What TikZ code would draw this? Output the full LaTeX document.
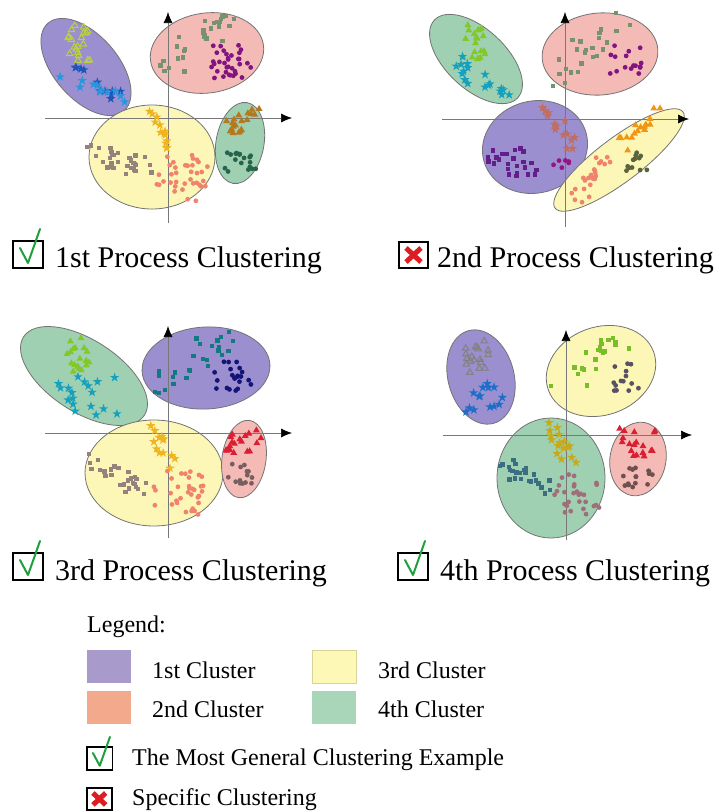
\documentclass[tikz,border=0pt]{standalone}
\usepackage{fontspec}
\setmainfont{Liberation Serif}
\usetikzlibrary{arrows.meta}
\definecolor{epurple}{RGB}{155,143,207}
\definecolor{epink}{RGB}{244,186,182}
\definecolor{eyellow}{RGB}{252,247,182}
\definecolor{egreen}{RGB}{160,208,178}
\definecolor{lpurple}{RGB}{168,155,204}
\definecolor{lsalmon}{RGB}{242,169,140}
\definecolor{lyellow}{RGB}{253,248,182}
\definecolor{lgreen}{RGB}{169,213,185}
\definecolor{estroke}{RGB}{115,115,115}
\definecolor{axgray}{RGB}{120,120,120}
\definecolor{ckgreen}{RGB}{30,160,60}
\definecolor{xred}{RGB}{220,30,35}
\definecolor{ygc}{RGB}{185,210,60}
\definecolor{bluedk}{RGB}{30,85,185}
\definecolor{bluelt}{RGB}{40,150,220}
\definecolor{ggc}{RGB}{120,145,110}
\definecolor{purpc}{RGB}{130,20,130}
\definecolor{goldc}{RGB}{240,180,30}
\definecolor{gbc}{RGB}{150,130,125}
\definecolor{salc}{RGB}{240,130,110}
\definecolor{browntc}{RGB}{180,120,30}
\definecolor{dgc}{RGB}{40,100,75}
\definecolor{grtc}{RGB}{130,200,40}
\definecolor{tealc}{RGB}{20,160,190}
\definecolor{rosec}{RGB}{190,110,100}
\definecolor{purpsq}{RGB}{100,30,140}
\definecolor{magc}{RGB}{150,20,130}
\definecolor{orc}{RGB}{240,150,20}
\definecolor{olc}{RGB}{90,100,60}
\definecolor{tealsq}{RGB}{20,120,130}
\definecolor{navyc}{RGB}{20,20,120}
\definecolor{redc}{RGB}{220,30,50}
\definecolor{bgdc}{RGB}{120,95,95}
\definecolor{graytc}{RGB}{130,130,130}
\definecolor{blue4}{RGB}{30,110,200}
\definecolor{grsq}{RGB}{120,190,40}
\definecolor{dkpc}{RGB}{90,80,100}
\definecolor{olgold}{RGB}{200,170,20}
\definecolor{slatec}{RGB}{60,110,130}
\definecolor{mauvec}{RGB}{160,110,120}
\definecolor{brdc}{RGB}{110,80,80}
\newcommand\myscat[8]{%
 \pgfmathsetseed{#1}%
 \foreach \i in {1,...,#2}{%
  \pgfmathsetmacro\px{#3+(2*rnd-1)*#5}%
  \pgfmathsetmacro\py{#4+(2*rnd-1)*#6}%
  \pic[color=#8] at (\px,\py) {#7};}}
\newcommand\myband[9]{%
 \pgfmathsetseed{#1}%
 \foreach \i in {1,...,#2}{%
  \pgfmathsetmacro\bt{rnd}%
  \pgfmathsetmacro\px{#3+\bt*(#5-#3)+(2*rnd-1)*#7}%
  \pgfmathsetmacro\py{#4+\bt*(#6-#4)+(2*rnd-1)*#7}%
  \pic[color=#9] at (\px,\py) {#8};}}
\tikzset{
 mdot/.pic={\fill (0,0) circle (2.4);},
 msq/.pic={\fill (-2.2,-2.2) rectangle (2.2,2.2);},
 mtri/.pic={\fill (270:4)--(30:4)--(150:4)--cycle;},
 motri/.pic={\draw[line width=1] (270:3.7)--(30:3.7)--(150:3.7)--cycle;},
 mstar/.pic={\fill (270:4.9)--(54:4.9)--(198:4.9)--(342:4.9)--(126:4.9)--cycle;},
 clus/.style={draw=estroke, line width=0.8},
 axis/.style={draw=axgray, line width=0.7, -{Latex[length=11pt,width=9pt,color=black]}},
 lbl/.style={anchor=base west, font=\fontsize{30}{36}\selectfont, inner sep=0},
 leg/.style={anchor=base west, font=\fontsize{24}{28}\selectfont, inner sep=0},
 chkbox/.pic={\draw[line width=1.8, black] (0,0) rectangle (30,-27);
   \draw[line width=2, ckgreen, line cap=round, line join=round] (7,-20)--(15,-5)--(27,-39);},
 xbox/.pic={\draw[line width=1.8, black] (0,0) rectangle (29,-26);
   \draw[line width=5, xred] (7,-6)--(22,-20) (7,-20)--(22,-6);},
}
\begin{document}
\begin{tikzpicture}[x=1pt,y=-1pt]
\useasboundingbox[fill=white] (0,0) rectangle (720,812);
% ---------- Panel 1 ----------
\fill[epurple,clus] (86,67) ellipse [x radius=58, y radius=32, rotate=-49];
\fill[epink,clus] (207,53) ellipse [x radius=57, y radius=40, rotate=8];
\fill[eyellow,clus] (152,157) ellipse [x radius=63, y radius=52];
\fill[egreen,clus] (240,143) ellipse [x radius=24, y radius=41, rotate=-10];
\coordinate (a1s) at (168,223); \coordinate (a1n) at (168,12);
\coordinate (a1w) at (45,118); \coordinate (a1e) at (292,118);
\draw[axis] (a1s) -- (a1n);
\draw[axis] (a1w) -- (a1e);
\myscat{1}{20}{79}{42}{12}{19}{motri}{ygc}
\myband{2}{11}{55}{60}{120}{98}{9}{mstar}{bluedk}
\myband{3}{11}{58}{66}{118}{95}{9}{mstar}{bluelt}
\myband{4}{28}{160}{72}{226}{18}{13}{msq}{ggc}
\myscat{5}{34}{231}{61}{20}{17}{mdot}{purpc}
\myband{6}{13}{152}{107}{170}{146}{6}{mstar}{goldc}
\myband{7}{30}{93}{150}{145}{170}{10}{msq}{gbc}
\myscat{8}{36}{181}{178}{27}{23}{mdot}{salc}
\myband{9}{19}{218}{138}{260}{112}{9}{mtri}{browntc}
\myscat{10}{18}{240}{162}{17}{10}{mdot}{dgc}
\pic (ck1) at (13,268) {chkbox};
\node[lbl] (t1) at (55,267) {1st Process Clustering};
% ---------- Panel 2 ----------
\fill[egreen,clus] (476,59) ellipse [x radius=57, y radius=30, rotate=-43];
\fill[epink,clus] (600,54) ellipse [x radius=58, y radius=41, rotate=5];
\fill[epurple,clus] (535,147) ellipse [x radius=53, y radius=46, rotate=15];
\fill[eyellow,clus] (619,160) ellipse [x radius=80, y radius=22, rotate=37];
\coordinate (a2s) at (565,227); \coordinate (a2n) at (565,12);
\coordinate (a2w) at (442,119); \coordinate (a2e) at (689,119);
\draw[axis] (a2s) -- (a2n);
\draw[axis] (a2w) -- (a2e);
\myscat{21}{20}{476}{43}{13}{19}{mtri}{grtc}
\myband{22}{18}{452}{60}{515}{98}{10}{mstar}{tealc}
\myband{23}{24}{555}{75}{625}{18}{13}{msq}{ggc}
\myscat{24}{16}{630}{61}{21}{17}{mdot}{purpc}
\myband{25}{14}{549}{113}{572}{148}{7}{mstar}{rosec}
\myscat{26}{24}{514}{162}{26}{14}{msq}{purpsq}
\myscat{27}{6}{560}{166}{9}{9}{mdot}{magc}
\myband{28}{16}{620}{145}{656}{113}{8}{mtri}{orc}
\myscat{29}{12}{637}{160}{15}{11}{mdot}{olc}
\myband{30}{24}{572}{198}{606}{158}{10}{mdot}{salc}
\pic (x2) at (399,268) {xbox};
\node[lbl] (t2) at (437,267) {2nd Process Clustering};
% ---------- Panel 3 ----------
\fill[egreen,clus] (84,376) ellipse [x radius=72, y radius=36, rotate=-33];
\fill[epurple,clus] (206,368) ellipse [x radius=64, y radius=41, rotate=3];
\fill[eyellow,clus] (154,473) ellipse [x radius=69, y radius=53];
\fill[epink,clus] (244,459) ellipse [x radius=22, y radius=39, rotate=-8];
\coordinate (a3s) at (168,538); \coordinate (a3n) at (168,326);
\coordinate (a3w) at (45,433); \coordinate (a3e) at (292,433);
\draw[axis] (a3s) -- (a3n);
\draw[axis] (a3w) -- (a3e);
\myscat{31}{18}{79}{356}{12}{18}{mtri}{grtc}
\myscat{32}{18}{87}{393}{34}{23}{mstar}{tealc}
\myband{33}{26}{160}{388}{228}{332}{13}{msq}{tealsq}
\myscat{34}{22}{233}{375}{19}{16}{mdot}{navyc}
\myband{35}{13}{150}{424}{175}{463}{7}{mstar}{goldc}
\myband{36}{28}{92}{462}{145}{490}{10}{msq}{gbc}
\myscat{37}{34}{179}{493}{26}{23}{mdot}{salc}
\myscat{38}{18}{243}{441}{18}{14}{mtri}{redc}
\myscat{39}{14}{242}{475}{14}{11}{mdot}{bgdc}
\pic (ck3) at (13,580) {chkbox};
\node[lbl] (t3) at (55,580) {3rd Process Clustering};
% ---------- Panel 4 ----------
\fill[epurple,clus] (481,377) ellipse [x radius=33, y radius=48, rotate=15];
\fill[eyellow,clus] (601,371) ellipse [x radius=56, y radius=44, rotate=20];
\fill[egreen,clus] (551,478) ellipse [x radius=54, y radius=60];
\fill[epink,clus] (638,459) ellipse [x radius=28, y radius=37, rotate=-10];
\coordinate (a4s) at (566,540); \coordinate (a4n) at (566,330);
\coordinate (a4w) at (443,435); \coordinate (a4e) at (692,435);
\draw[axis] (a4s) -- (a4n);
\draw[axis] (a4w) -- (a4e);
\myscat{41}{18}{477}{359}{12}{18}{motri}{graytc}
\myscat{42}{14}{485}{398}{22}{15}{mstar}{blue4}
\myband{43}{22}{557}{388}{625}{334}{13}{msq}{grsq}
\myscat{44}{14}{625}{377}{14}{16}{mdot}{dkpc}
\myband{45}{16}{550}{425}{572}{465}{8}{mstar}{olgold}
\myband{46}{24}{508}{468}{545}{490}{9}{msq}{slatec}
\myscat{47}{28}{575}{496}{24}{23}{mdot}{mauvec}
\myscat{48}{18}{637}{447}{21}{19}{mtri}{redc}
\myscat{49}{16}{638}{478}{17}{11}{mdot}{brdc}
\pic (ck4) at (398,580) {chkbox};
\node[lbl] (t4) at (440,580) {4th Process Clustering};
% ---------- Legend ----------
\node[leg] (lg) at (87,632) {Legend:};
\fill[lpurple] (87,650) rectangle (131,683);
\node[leg] (l1) at (152,678) {1st Cluster};
\fill[lsalmon] (87,691) rectangle (131,724);
\node[leg] (l2) at (152,717) {2nd Cluster};
\fill[lyellow,draw=lyellow!85!black,line width=0.5] (312,650) rectangle (356,683);
\node[leg] (l3) at (378,678) {3rd Cluster};
\fill[lgreen] (312,691) rectangle (356,724);
\node[leg] (l4) at (378,717) {4th Cluster};
\pic[scale=0.85] (lck) at (87,770) {chkbox};
\node[leg] (l5) at (132,765) {The Most General Clustering Example};
\pic[scale=0.85] (lx) at (87,810) {xbox};
\node[leg] (l6) at (132,805) {Specific Clustering};
\end{tikzpicture}
\end{document}
